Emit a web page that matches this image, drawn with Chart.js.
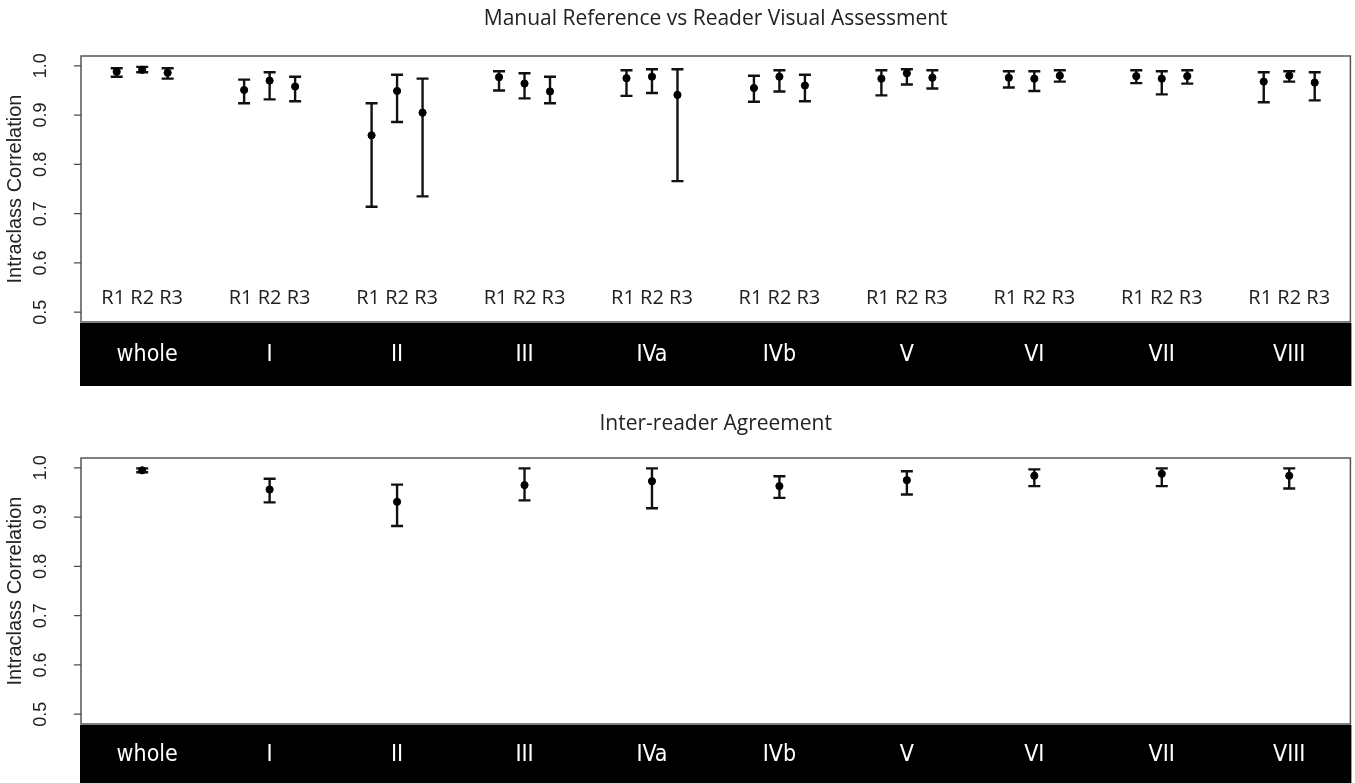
<!DOCTYPE html>
<html lang="en">
<head>
  <meta charset="UTF-8" />
  <title>Intraclass Correlation</title>
  <script src="https://cdn.jsdelivr.net/npm/chart.js"></script>
  <style>
    body { margin: 0; background: #fff; }
    .panel { position: absolute; left: 0; width: 1355px; }
  </style>
</head>
<body>

  <!-- top: manual reference vs each reader -->
  <div class="panel" style="top:0;height:392px"><canvas id="topChart"></canvas></div>
  <!-- bottom: agreement between readers -->
  <div class="panel" style="top:392px;height:391px"><canvas id="bottomChart"></canvas></div>

  <script>
    const regions = ['whole', 'I', 'II', 'III', 'IVa', 'IVb', 'V', 'VI', 'VII', 'VIII'];
    const readers = ['R1', 'R2', 'R3'];
    const yTicks = [0.5, 0.6, 0.7, 0.8, 0.9, 1.0];

    // ICC with 95% CI, manual reference vs reader
    const r1Icc = [0.988, 0.951, 0.859, 0.977, 0.975, 0.955, 0.974, 0.976, 0.979, 0.968];
    const r1Lo  = [0.978, 0.924, 0.714, 0.950, 0.939, 0.927, 0.940, 0.956, 0.965, 0.926];
    const r1Hi  = [0.995, 0.972, 0.924, 0.989, 0.991, 0.980, 0.991, 0.989, 0.991, 0.987];
    const r2Icc = [0.992, 0.970, 0.949, 0.964, 0.978, 0.978, 0.985, 0.974, 0.974, 0.980];
    const r2Lo  = [0.987, 0.932, 0.886, 0.934, 0.945, 0.948, 0.962, 0.949, 0.942, 0.968];
    const r2Hi  = [0.998, 0.987, 0.982, 0.985, 0.993, 0.991, 0.993, 0.989, 0.989, 0.989];
    const r3Icc = [0.986, 0.958, 0.905, 0.948, 0.941, 0.960, 0.976, 0.980, 0.979, 0.966];
    const r3Lo  = [0.974, 0.928, 0.735, 0.924, 0.766, 0.928, 0.954, 0.968, 0.964, 0.930];
    const r3Hi  = [0.995, 0.978, 0.974, 0.978, 0.993, 0.982, 0.991, 0.991, 0.991, 0.987];

    // inter-reader ICC with 95% CI
    const interIcc = [0.995, 0.956, 0.931, 0.965, 0.973, 0.963, 0.975, 0.984, 0.988, 0.984];
    const interLo  = [0.991, 0.930, 0.882, 0.934, 0.918, 0.939, 0.946, 0.963, 0.963, 0.958];
    const interHi  = [0.999, 0.978, 0.966, 0.999, 0.999, 0.983, 0.993, 0.997, 0.999, 0.999];

    // x position: 5 units per region, readers at 1,2,3 inside it
    const pos = (g, r) => g * 5 + r + 1;

    const readerSets = [[r1Icc, r1Lo, r1Hi], [r2Icc, r2Lo, r2Hi], [r3Icc, r3Lo, r3Hi]];
    const topBars = [];
    readerSets.forEach(([icc, lo, hi], r) => {
      regions.forEach((_, g) => topBars.push({ x: pos(g, r), y: icc[g], lo: lo[g], hi: hi[g] }));
    });
    const bottomBars = regions.map((_, g) => ({ x: pos(g, 1), y: interIcc[g], lo: interLo[g], hi: interHi[g] }));

    const sansAxis = '"Liberation Sans", Arial, sans-serif';
    const sansText = '"Open Sans", sans-serif';
    const sansBand = '"Liberation Sans Narrow", "DejaVu Sans Condensed", "Open Sans", sans-serif';

    function panelPlugin(cfg) {
      return {
        id: 'panel',
        beforeDatasetsDraw(chart) {
          const { ctx, scales: { x, y } } = chart;
          ctx.save();
          ctx.strokeStyle = '#111';
          ctx.lineWidth = 2.4;
          cfg.bars.forEach(b => {
            const px = x.getPixelForValue(b.x);
            const top = y.getPixelForValue(b.hi);
            const bot = y.getPixelForValue(b.lo);
            ctx.beginPath();
            ctx.moveTo(px, top); ctx.lineTo(px, bot);
            ctx.moveTo(px - 6, top); ctx.lineTo(px + 6, top);
            ctx.moveTo(px - 6, bot); ctx.lineTo(px + 6, bot);
            ctx.stroke();
          });
          ctx.restore();
        },
        afterDraw(chart) {
          const { ctx, chartArea: a, scales: { x, y } } = chart;
          ctx.save();

          // frame
          ctx.strokeStyle = '#555';
          ctx.lineWidth = 1.5;
          ctx.strokeRect(a.left, a.top, a.right - a.left, a.bottom - a.top);

          // y ticks + rotated labels
          ctx.strokeStyle = '#444';
          ctx.lineWidth = 1.2;
          ctx.fillStyle = '#222';
          ctx.font = '18px ' + sansAxis;
          ctx.textAlign = 'center';
          ctx.textBaseline = 'middle';
          yTicks.forEach(t => {
            const py = y.getPixelForValue(t);
            ctx.beginPath();
            ctx.moveTo(a.left - 7, py); ctx.lineTo(a.left, py);
            ctx.stroke();
            ctx.save();
            ctx.translate(41, py);
            ctx.rotate(-Math.PI / 2);
            ctx.fillText(t.toFixed(1), 0, 0);
            ctx.restore();
          });

          // y title
          ctx.save();
          ctx.translate(15, (y.getPixelForValue(0.5) + y.getPixelForValue(1.0)) / 2);
          ctx.rotate(-Math.PI / 2);
          ctx.font = '20px ' + sansAxis;
          ctx.fillText('Intraclass Correlation', 0, 0);
          ctx.restore();

          // title
          ctx.font = '21px ' + sansText;
          ctx.fillStyle = '#222';
          ctx.fillText(cfg.title, (a.left + a.right) / 2, cfg.titleY);

          // reader labels inside plot
          if (cfg.readerLabels) {
            ctx.font = '20px ' + sansText;
            regions.forEach((_, g) => {
              ctx.fillText(readers.join(' '), x.getPixelForValue(pos(g, 1)), a.bottom - 24);
            });
          }

          // black region band
          ctx.fillStyle = '#000';
          ctx.fillRect(a.left - 1, a.bottom + 1, a.right - a.left + 2, cfg.bandH);
          ctx.fillStyle = '#fff';
          ctx.font = '23px ' + sansBand;
          regions.forEach((name, g) => {
            ctx.fillText(name, x.getPixelForValue(pos(g, 1)) + (g === 0 ? 5 : 0), a.bottom + 1 + cfg.bandLabelY);
          });
          ctx.restore();
        }
      };
    }

    function makeChart(id, bars, pad, cfg) {
      return new Chart(document.getElementById(id), {
        type: 'scatter',
        data: {
          datasets: [{
            data: bars.map(b => ({ x: b.x, y: b.y })),
            backgroundColor: '#000',
            borderColor: '#000',
            pointRadius: 3.6,
            pointHoverRadius: 3.6
          }]
        },
        options: {
          responsive: true,
          maintainAspectRatio: false,
          animation: false,
          layout: { padding: pad },
          plugins: { legend: { display: false }, tooltip: { enabled: false } },
          scales: {
            x: { type: 'linear', min: -0.4, max: 49.4, display: false },
            y: { type: 'linear', min: 0.48, max: 1.02, display: false }
          }
        },
        plugins: [panelPlugin(Object.assign({ bars }, cfg))]
      });
    }

    makeChart('topChart', topBars, { left: 81, right: 4, top: 56, bottom: 70 }, {
      title: 'Manual Reference vs Reader Visual Assessment', titleY: 19,
      readerLabels: true, bandH: 63, bandLabelY: 32
    });
    makeChart('bottomChart', bottomBars, { left: 81, right: 4, top: 66, bottom: 59 }, {
      title: 'Inter-reader Agreement', titleY: 32,
      readerLabels: false, bandH: 60, bandLabelY: 30
    });
  </script>
</body>
</html>
